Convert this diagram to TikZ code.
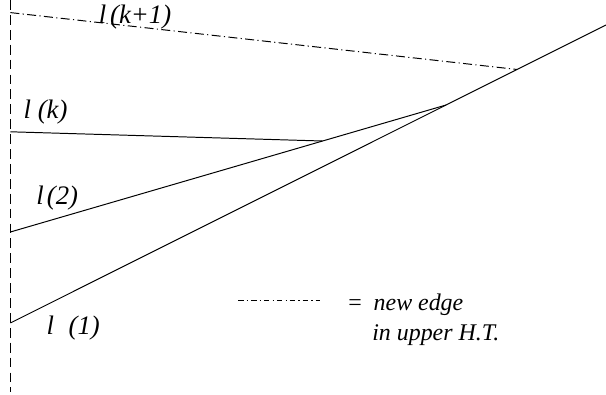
\documentclass[tikz,border=0pt]{standalone}
\usepackage{fontspec}
\setmainfont{Liberation Serif}
\usetikzlibrary{calc}

\tikzset{
  edge/.style={line width=0.7pt},
  newedge/.style={line width=0.7pt, dash pattern=on 6.4pt off 2.4pt on 0.8pt off 2.4pt},
  legendedge/.style={line width=0.7pt, dash pattern=on 4pt off 2.2pt on 0.8pt off 2.2pt},
  axisline/.style={line width=0.7pt, dash pattern=on 7pt off 3.6pt},
  lab/.style={font=\fontsize{17}{20}\selectfont\itshape, inner sep=0pt},
  linelab/.style={font=\fontsize{19}{22}\selectfont\itshape, inner sep=0pt}
}

\begin{document}
\begin{tikzpicture}[scale=1]
\useasboundingbox (0,0) rectangle (15.15,9.875);

% Vertical axis
\coordinate (top) at (0.26,9.875);
\coordinate (bottom) at (0.26,0.08);
\draw[axisline] (top)--(bottom);

% End points on the axis
\coordinate (s1) at (0.26,1.8);
\coordinate (s2) at (0.26,4.075);
\coordinate (sk) at (0.26,6.58);
\coordinate (sk1) at (0.26,9.56);

% Line l(1) and the points where the others meet it
\coordinate (e1) at (15.15,9.25);
\coordinate (e2) at ($(s1)!0.7315!(e1)$);
\coordinate (ek1) at ($(s1)!0.8507!(e1)$);
\coordinate (ek) at ($(s2)!0.7165!(e2)$);

% Lower envelope
\draw[edge] (s1)--(e1);
\draw[edge] (s2)--(e2);
\draw[edge] (sk)--(ek);

% New edge
\draw[newedge] (sk1)--(ek1);

% Labels
\node[linelab] (lk1) at (3.375,9.45) {l\hspace{0.15em}(k+1)};
\node[linelab] (lk) at (1.14,7.075) {l\hspace{0.25em}(k)};
\node[linelab] (l2) at (1.43,4.925) {l\hspace{0.12em}(2)};
\node[linelab] (l1) at (1.83,1.675) {l\hspace{0.55em}(1)};

% Legend
\coordinate (ga) at (5.95,2.375);
\coordinate (gb) at (8.0,2.375);
\draw[legendedge] (ga)--(gb);
\node[lab, anchor=west] (leg1) at (8.7,2.25) {\upshape =\ \ \itshape new edge};
\node[lab, anchor=west] (leg2) at (9.3,1.5) {in upper H.T.};

\end{tikzpicture}
\end{document}
